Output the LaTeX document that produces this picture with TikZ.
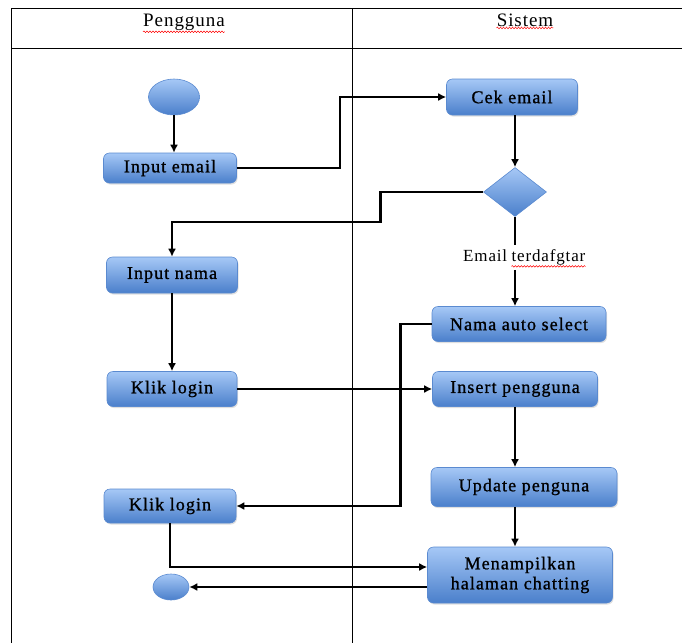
\documentclass[tikz,border=0pt]{standalone}
\usepackage{fontspec}
\setmainfont{Liberation Serif}
\newfontfamily\boxfamily[LetterSpace=6,FakeBold=1]{Liberation Serif}
\newfontfamily\wordfamily[LetterSpace=5]{Liberation Serif}
\usetikzlibrary{positioning,shapes.geometric,arrows.meta,shadows,decorations.pathmorphing}
\definecolor{boxtop}{HTML}{A6C8F6}
\definecolor{boxbot}{HTML}{4A7FCB}
\definecolor{boxline}{HTML}{5A8AD0}
\newcommand\actfont{\boxfamily\fontsize{18}{20}\selectfont}
\newcommand\headfont{\wordfamily\fontsize{19}{21}\selectfont}

\begin{document}
\begin{tikzpicture}[
    x=1pt, y=-1pt,
    lane/.style={draw=black, line width=0.8pt},
    act/.style={rectangle, rounded corners=6pt, draw=boxline, line width=0.6pt,
        top color=boxtop, bottom color=boxbot, inner sep=0pt, font=\actfont,
        drop shadow={shadow xshift=1pt, shadow yshift=-1.5pt, opacity=0.25}},
    dot/.style={ellipse, draw=boxline, line width=0.6pt, top color=boxtop,
        bottom color=boxbot, inner sep=0pt},
    choice/.style={diamond, draw=boxline, line width=0.6pt, top color=boxtop,
        bottom color=boxbot, inner sep=0pt},
    word/.style={inner sep=0pt, font=\wordfamily\fontsize{17}{19}\selectfont},
    spell/.style={draw=red, line width=0.5pt, decorate,
        decoration={snake, amplitude=0.8pt, segment length=3pt}},
    wire/.style={draw=black, line width=2.6pt},
    flow/.style={wire, -{Latex[length=8pt,width=8pt]}}
]
\useasboundingbox (0,0) rectangle (682,643);

% Swimlanes
\draw[lane] (11,8) -- (682,8);
\draw[lane] (11,48) -- (682,48);
\draw[lane] (11,8) -- (11,643);
\draw[lane] (352,8) -- (352,643);
\node[anchor=base, inner sep=0pt, font=\headfont] (hpeng) at (184,26) {Pengguna};
\node[anchor=base, inner sep=0pt, font=\headfont] (hsis) at (525,26) {Sistem};
\draw[spell] ([yshift=-1.5pt]hpeng.south west) -- ([yshift=-1.5pt]hpeng.south east);
\draw[spell] ([yshift=-1.5pt]hsis.south west) -- ([yshift=-1.5pt]hsis.south east);

% Pengguna
\node[dot, minimum width=51, minimum height=36] (start) at (174,97) {};
\node[act, minimum width=133, minimum height=30] (inemail) at (170,168) {Input email};
\node[act, minimum width=131, minimum height=36] (innama) at (172,275) {Input nama};
\node[act, minimum width=130, minimum height=35] (login1) at (172,389) {Klik login};
\node[act, minimum width=132, minimum height=34] (login2) at (170,506) {Klik login};
\node[dot, minimum width=36, minimum height=26] (end) at (171,587) {};

% Sistem
\node[act, minimum width=131, minimum height=36] (cek) at (512,97) {Cek email};
\node[choice, minimum width=63, minimum height=49] (dec) at (515,192) {};
\node[word, anchor=base west] (lbl) at (463,261) {Email};
\node[word, base right=4pt of lbl] (lblb) {terdafgtar};
\draw[spell] ([yshift=-1.5pt]lblb.south west) -- ([yshift=-1.5pt]lblb.south east);
\node[act, minimum width=174, minimum height=35] (nama) at (519,324) {Nama auto select};
\node[act, minimum width=165, minimum height=35] (insert) at (515,389) {Insert pengguna};
\node[act, minimum width=186, minimum height=39] (update) at (524,487) {Update penguna};
\node[act, minimum width=185, minimum height=56, align=center] (tampil) at (520,575)
    {Menampilkan\\halaman chatting};

% Alur
\draw[flow] (start) -- (start |- inemail.north);
\draw[flow] (inemail.east) -- ++(103,0) |- (cek.west);
\draw[flow] (cek.south -| dec) -- (dec.north);
\draw[flow] (dec.west) -- ++(-103,0) -- ++(0,30) -| (innama.north);
\draw[wire] (dec.south) -- ([yshift=4pt]dec.south |- lblb.north);
\draw[flow] ([yshift=-5pt]dec.south |- lblb.south) -- (dec.south |- nama.north);
\draw[flow] (innama.south) -- (login1.north);
\draw[flow] (login1.east) -- (insert.west);
\draw[flow] (nama.west) -- ++(-31,0) |- (login2.east);
\draw[flow] (insert.south) -- (insert.south |- update.north);
\draw[flow] (insert.south |- update.south) -- (insert.south |- tampil.north);
\draw[flow] (login2.south) |- ([yshift=8pt]tampil.west);
\draw[flow] ([yshift=-12pt]tampil.west) -- (end.east);

\end{tikzpicture}
\end{document}
